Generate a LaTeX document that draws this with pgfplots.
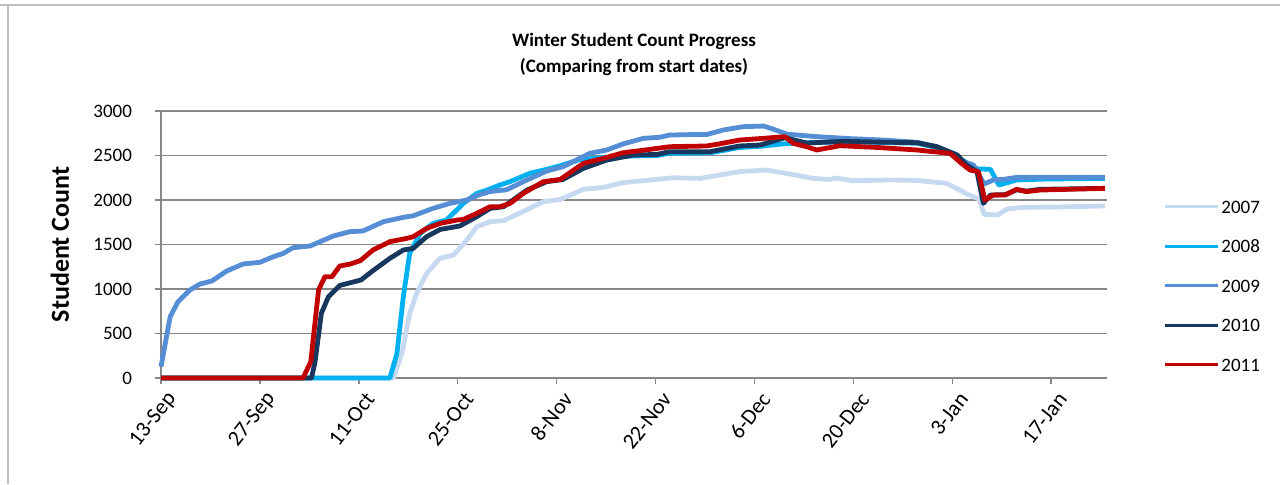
\documentclass[border=0pt]{standalone}
\usepackage{pgfplots}
\pgfplotsset{compat=1.18}
\usepackage{fontspec}
\setmainfont{Carlito}
\definecolor{c07}{HTML}{C6D9F1}
\definecolor{c08}{HTML}{00B0F0}
\definecolor{c09}{HTML}{558ED5}
\definecolor{c10}{HTML}{17375E}
\definecolor{c11}{HTML}{C00000}
\definecolor{gridc}{HTML}{878787}
\definecolor{framec}{HTML}{BFBFBF}
\begin{document}
\begin{tikzpicture}
\useasboundingbox (0,0) rectangle (640pt,242pt);
\draw[framec, line width=1.3pt] (0,239.5pt) -- (640pt,239.5pt);
\draw[framec, line width=1.3pt] (4pt,239.5pt) -- (4pt,0);
\begin{axis}[
  at={(80.5pt,53pt)}, anchor=south west,
  scale only axis, width=473pt, height=133.5pt,
  xmin=0, xmax=133.9, ymin=0, ymax=3000,
  clip=false,
  axis lines=left,
  axis line style={gridc, line width=0.75pt, -},
  xtick={0,14,...,126},
  xticklabels={13-Sep,27-Sep,11-Oct,25-Oct,8-Nov,22-Nov,6-Dec,20-Dec,3-Jan,17-Jan},
  ytick={0,500,...,3000},
  ymajorgrids,
  grid style={gridc, line width=0.75pt},
  tick align=outside,
  major tick length=3pt,
  tick style={gridc, line width=0.75pt},
  scaled y ticks=false,
  /pgf/number format/assume math mode=true,
  /pgf/number format/1000 sep={},
  xticklabel style={rotate=52, anchor=east, font=\fontsize{11}{12}\selectfont, xshift=2.5pt, yshift=-8pt},
  yticklabel style={font=\fontsize{9.5}{11}\selectfont, xshift=-8pt},
  ylabel={Student Count},
  ylabel style={font=\fontsize{13}{15}\selectfont\bfseries, at={(axis description cs:-0.1068,0.5)}, anchor=center},
  title={Winter Student Count Progress\\(Comparing from start dates)},
  title style={align=center, font=\bfseries\fontsize{9.5}{13}\selectfont, yshift=8pt},
  legend style={at={(1.0592,0.3446)}, anchor=west, draw=none, fill=none, inner sep=0pt,
    row sep=11.25pt, font=\fontsize{9.5}{11}\selectfont,
    nodes={inner sep=1pt, text height=6.5pt, text depth=0pt}},
  legend cell align=left,
  legend image code/.code={\draw[#1, line width=1.5pt] (0pt,0pt) -- (26.5pt,0pt);},
]
\addplot[c07, line width=2.4pt, line join=round] coordinates {
(0,0) (32.9,0) (34.1,277) (35.2,727) (36.2,952) (37.6,1176) (39.5,1345) (41.4,1382) (43.3,1551) (44.7,1700) (46.6,1756) (48.5,1768) (51.3,1873) (54.1,1981) (56.5,2006) (59.8,2120) (62.6,2142) (65.4,2195) (69.2,2225) (72.5,2250) (76.3,2243) (79.1,2281) (81.9,2319) (85.7,2337) (89,2292) (92.3,2243) (94.7,2231) (95.5,2247) (98,2217) (103.2,2225) (107,2220) (111.2,2187) (112.1,2150) (114,2070) (115.8,2010) (116.5,1840) (118.4,1831) (119.8,1900) (122,1917) (127,1922) (133.6,1933)
};
\addlegendentry{2007}
\addplot[c08, line width=2.4pt, line join=round] coordinates {
(0,0) (32.4,0) (33.4,277) (34.3,913) (35.2,1400) (36.7,1625) (38.5,1737) (40.4,1775) (42.8,1962) (44.7,2075) (46.1,2110) (48,2170) (49.4,2206) (52.2,2300) (54.6,2345) (56.5,2385) (59.3,2455) (63,2480) (66.9,2495) (70.2,2500) (72,2525) (77.7,2530) (81.9,2590) (85,2605) (88,2630) (92,2645) (97,2655) (107,2638) (109.8,2590) (111.7,2524) (113.6,2440) (114.5,2393) (115.5,2350) (117.4,2345) (118.6,2168) (120,2200) (121.1,2225) (125,2235) (133.6,2243)
};
\addlegendentry{2008}
\addplot[c09, line width=2.4pt, line join=round] coordinates {
(0,127) (1.3,689) (2.4,857) (4.1,989) (5.5,1056) (7.2,1090) (9.3,1202) (11.6,1281) (14,1300) (15.9,1363) (17.3,1400) (18.7,1464) (21.1,1483) (24.4,1596) (26.7,1644) (28.6,1652) (31.5,1757) (34.3,1805) (35.7,1823) (38.5,1906) (40.9,1962) (43.3,2000) (45.1,2060) (46.5,2094) (48.9,2115) (51.8,2225) (54.6,2326) (56.9,2374) (60.7,2524) (63.1,2562) (65.4,2630) (68.3,2693) (70.6,2705) (72,2730) (74.9,2735) (77.2,2735) (79.6,2787) (82.4,2824) (85.3,2831) (86.5,2800) (88.6,2740) (92.8,2712) (97.5,2690) (102.2,2674) (107,2648) (109.8,2599) (112.1,2524) (113.6,2431) (115,2393) (116.5,2180) (117.8,2225) (119.5,2235) (121.1,2254) (125,2255) (133.6,2255)
};
\addlegendentry{2009}
\addplot[c10, line width=2.4pt, line join=round] coordinates {
(0,0) (21.3,0) (21.8,180) (22.7,727) (23.7,913) (25.3,1040) (28.3,1101) (29.8,1194) (32.4,1345) (34.3,1438) (35.7,1457) (37.6,1588) (39.5,1669) (42.3,1708) (44.7,1813) (46.6,1906) (48.5,1925) (51.8,2112) (54.6,2206) (56.9,2231) (59.8,2356) (63.1,2449) (66.9,2506) (70.2,2512) (72,2543) (77.7,2543) (81.9,2607) (84.8,2618) (88.3,2700) (91.4,2640) (96.7,2660) (102,2650) (107,2644) (109.8,2599) (112.7,2506) (114,2393) (115.5,2319) (116.4,1962) (117.4,2056) (119.5,2060) (121.1,2115) (122.5,2100) (124.4,2120) (133.6,2131)
};
\addlegendentry{2010}
\addplot[c11, line width=2.4pt, line join=round] coordinates {
(0,0) (20.1,0) (21.2,183) (22.3,989) (23.2,1138) (24.2,1138) (25.3,1258) (26.8,1281) (28.2,1318) (30,1438) (32.4,1532) (34.8,1569) (35.7,1588) (37.6,1681) (39.5,1737) (41.9,1775) (42.8,1782) (44.7,1850) (46.6,1925) (48,1925) (49.4,1962) (51.3,2075) (54.1,2206) (56.5,2231) (59.8,2412) (62.6,2468) (65.4,2531) (69.2,2569) (72,2599) (77.2,2607) (79,2630) (81.9,2674) (85.3,2693) (88.3,2712) (89.5,2636) (91.4,2599) (92.8,2562) (96.1,2610) (101.3,2591) (107,2562) (111.7,2524) (113.3,2412) (114.5,2337) (115.7,2319) (116.6,2000) (117.8,2056) (119.5,2056) (121.1,2120) (122.5,2094) (124.4,2112) (133.6,2131)
};
\addlegendentry{2011}
\end{axis}
\end{tikzpicture}
\end{document}
